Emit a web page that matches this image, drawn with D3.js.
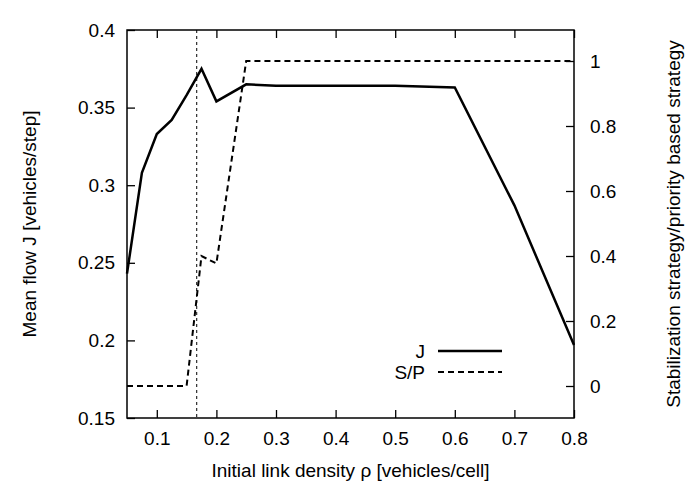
<!DOCTYPE html>
<html><head><meta charset="utf-8">
<script src="https://cdn.jsdelivr.net/npm/d3@7"></script>
<style>body{margin:0;background:#fff}text{font-family:"Liberation Sans",Arial,sans-serif}</style>
</head><body>
<svg id="c" width="697" height="488"></svg>
<script>
// data
var jX = [0.05, 0.075, 0.1, 0.125, 0.15, 0.175, 0.2, 0.25, 0.3, 0.4, 0.5, 0.6, 0.7, 0.8]
var jY = [0.243, 0.308, 0.333, 0.342, 0.358, 0.375, 0.354, 0.365, 0.364, 0.364, 0.364, 0.363, 0.287, 0.197]
var spX = [0.05, 0.1, 0.15, 0.175, 0.2, 0.25, 0.3, 0.4, 0.5, 0.6, 0.7, 0.8]
var spY = [0, 0, 0, 0.4, 0.377, 1, 1, 1, 1, 1, 1, 1]
var xTicks = [0.1, 0.2, 0.3, 0.4, 0.5, 0.6, 0.7, 0.8]
var yTicks = [0.15, 0.2, 0.25, 0.3, 0.35, 0.4]
var y2Ticks = [0, 0.2, 0.4, 0.6, 0.8, 1]
var markX = 0.167

var L = 127, R = 574, T = 30, B = 418
var FS = 19
var svg = d3.select("#c")
var x = d3.scaleLinear().domain([0.05, 0.8]).range([L, R])
var y = d3.scaleLinear().domain([0.15, 0.4]).range([B, T])
var y2 = d3.scaleLinear().domain([0, 1]).range([386, 61])

function style(g){
  g.select(".domain").remove()
  g.selectAll("line").attr("stroke", "#000").attr("stroke-width", 1.3)
  g.selectAll("text").attr("font-size", FS).attr("fill", "#000")
}
svg.append("g").attr("transform", "translate(0," + B + ")")
  .call(d3.axisBottom(x).tickValues(xTicks).tickFormat(d3.format("")).tickSizeInner(-8).tickPadding(14)).call(style)
svg.append("g").attr("transform", "translate(0," + T + ")")
  .call(d3.axisTop(x).tickValues(xTicks).tickFormat("").tickSizeInner(-8)).call(style)
svg.append("g").attr("transform", "translate(" + L + ",0)")
  .call(d3.axisLeft(y).tickValues(yTicks).tickFormat(d3.format("")).tickSizeInner(-8).tickPadding(12)).call(style)
svg.append("g").attr("transform", "translate(" + R + ",0)")
  .call(d3.axisRight(y2).tickValues(y2Ticks).tickFormat(d3.format("")).tickSizeInner(-8).tickPadding(16)).call(style)

svg.append("rect").attr("x", L).attr("y", T).attr("width", R - L).attr("height", B - T)
  .attr("fill", "none").attr("stroke", "#000").attr("stroke-width", 1.5)

svg.append("line").attr("x1", x(markX)).attr("x2", x(markX)).attr("y1", T).attr("y2", B)
  .attr("stroke", "#000").attr("stroke-width", 1).attr("stroke-dasharray", "3,3")

var lineJ = d3.line().x(function(d, i){ return x(jX[i]) }).y(function(d){ return y(d) })
var lineS = d3.line().x(function(d, i){ return x(spX[i]) }).y(function(d){ return y2(d) })
svg.append("path").attr("d", lineJ(jY)).attr("fill", "none").attr("stroke", "#000").attr("stroke-width", 2.5)
svg.append("path").attr("d", lineS(spY)).attr("fill", "none").attr("stroke", "#000").attr("stroke-width", 2).attr("stroke-dasharray", "6,4")

// legend
svg.append("text").attr("x", 425).attr("y", 358).attr("text-anchor", "end").attr("font-size", FS).text("J")
svg.append("line").attr("x1", 438).attr("x2", 502).attr("y1", 351).attr("y2", 351).attr("stroke", "#000").attr("stroke-width", 2.5)
svg.append("text").attr("x", 425).attr("y", 379).attr("text-anchor", "end").attr("font-size", FS).text("S/P")
svg.append("line").attr("x1", 438).attr("x2", 502).attr("y1", 372).attr("y2", 372).attr("stroke", "#000").attr("stroke-width", 2).attr("stroke-dasharray", "6,4")

// axis titles
svg.append("text").attr("x", (L + R) / 2).attr("y", 477).attr("text-anchor", "middle").attr("font-size", FS)
  .text("Initial link density ρ [vehicles/cell]")
svg.append("text").attr("transform", "translate(36," + (T + B) / 2 + ") rotate(-90)").attr("text-anchor", "middle").attr("font-size", FS)
  .text("Mean flow J [vehicles/step]")
svg.append("text").attr("transform", "translate(680," + (T + B) / 2 + ") rotate(-90)").attr("text-anchor", "middle").attr("font-size", FS)
  .text("Stabilization strategy/priority based strategy")
</script>
</body></html>
